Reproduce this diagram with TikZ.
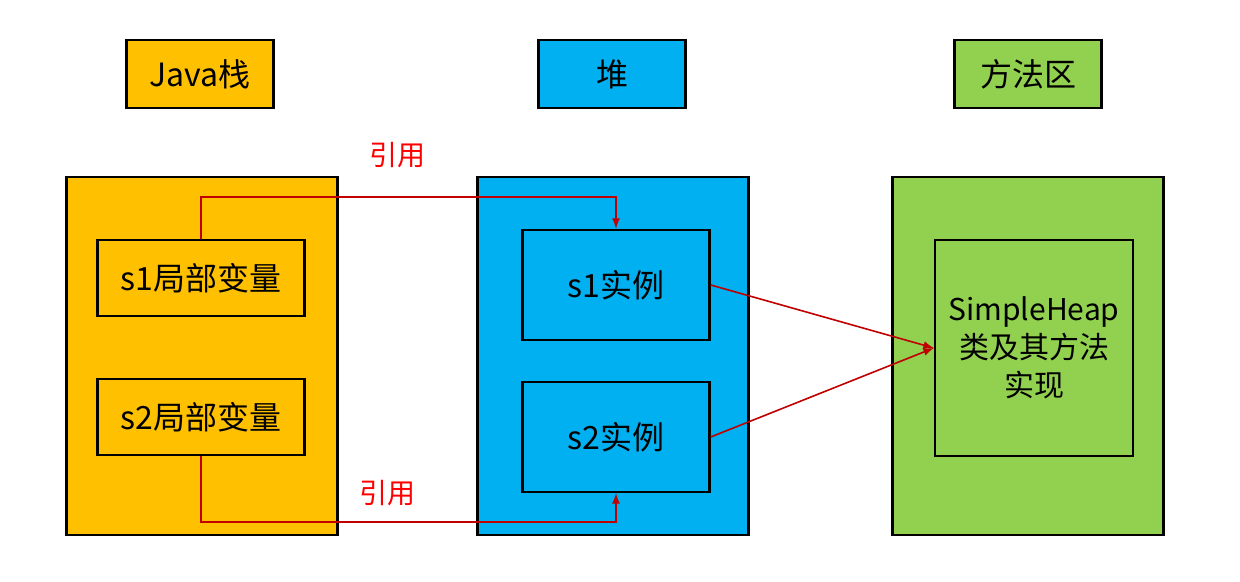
\documentclass[tikz,border=0pt]{standalone}
\usepackage{fontspec}
\setmainfont{Noto Sans CJK SC}
\definecolor{stackorange}{HTML}{FFC000}
\definecolor{heapblue}{HTML}{00B0F0}
\definecolor{methodgreen}{HTML}{92D050}
\definecolor{refred}{HTML}{C00000}
\begin{document}
\begin{tikzpicture}[x=0.5pt, y=-0.5pt]
  % Define block styles
  \tikzstyle{title} = [rectangle, draw, line width=1.2pt, minimum width=73.5pt, minimum height=34pt, font=\fontsize{16}{19}\selectfont]
  \tikzstyle{area} = [rectangle, draw, line width=1.2pt, minimum width=135.5pt, minimum height=179pt]
  \tikzstyle{block} = [rectangle, draw, line width=1.2pt, text centered, font=\fontsize{16}{19}\selectfont]
  \tikzstyle{line} = [draw, refred, line width=0.8pt, -latex]
  \tikzstyle{tag} = [text=red, font=\fontsize{14}{17}\selectfont]

  \useasboundingbox (0,0) rectangle (1240,582);

  % Place titles
  \node [title, fill=stackorange] (stacktitle) at (200,74) {Java栈};
  \node [title, fill=heapblue] (heaptitle) at (612,74) {堆};
  \node [title, fill=methodgreen] (methodtitle) at (1028,74) {方法区};

  % Place areas
  \node [area, fill=stackorange] (stack) at (202,356) {};
  \node [area, fill=heapblue] (heap) at (613,356) {};
  \node [area, fill=methodgreen] (method) at (1028,356) {};

  % Place blocks
  \node [block, minimum width=103.5pt, minimum height=38pt] (local1) at (201,278) {s1局部变量};
  \node [block, minimum width=103.5pt, minimum height=38pt] (local2) at (201,417) {s2局部变量};
  \node [block, minimum width=93.5pt, minimum height=55pt] (inst1) at (616,285) {s1实例};
  \node [block, minimum width=93.5pt, minimum height=55pt] (inst2) at (616,437) {s2实例};
  \node [block, minimum width=99pt, minimum height=108pt, text width=90pt, font=\fontsize{15}{19}\selectfont] (cls) at (1034,348) {SimpleHeap\\类及其方法\\实现};

  % Draw lines
  \path [line] (local1.north) |- (616,197) -- (inst1.north);
  \path [line] (local2.south) |- (616,522) -- (inst2.south);
  \path [line] (inst1.east) -- (cls.west);
  \path [line] (inst2.east) -- (cls.west);

  % Labels
  \node [tag] (ref1) at (397,155) {引用};
  \node [tag] (ref2) at (387,493) {引用};
\end{tikzpicture}
\end{document}
